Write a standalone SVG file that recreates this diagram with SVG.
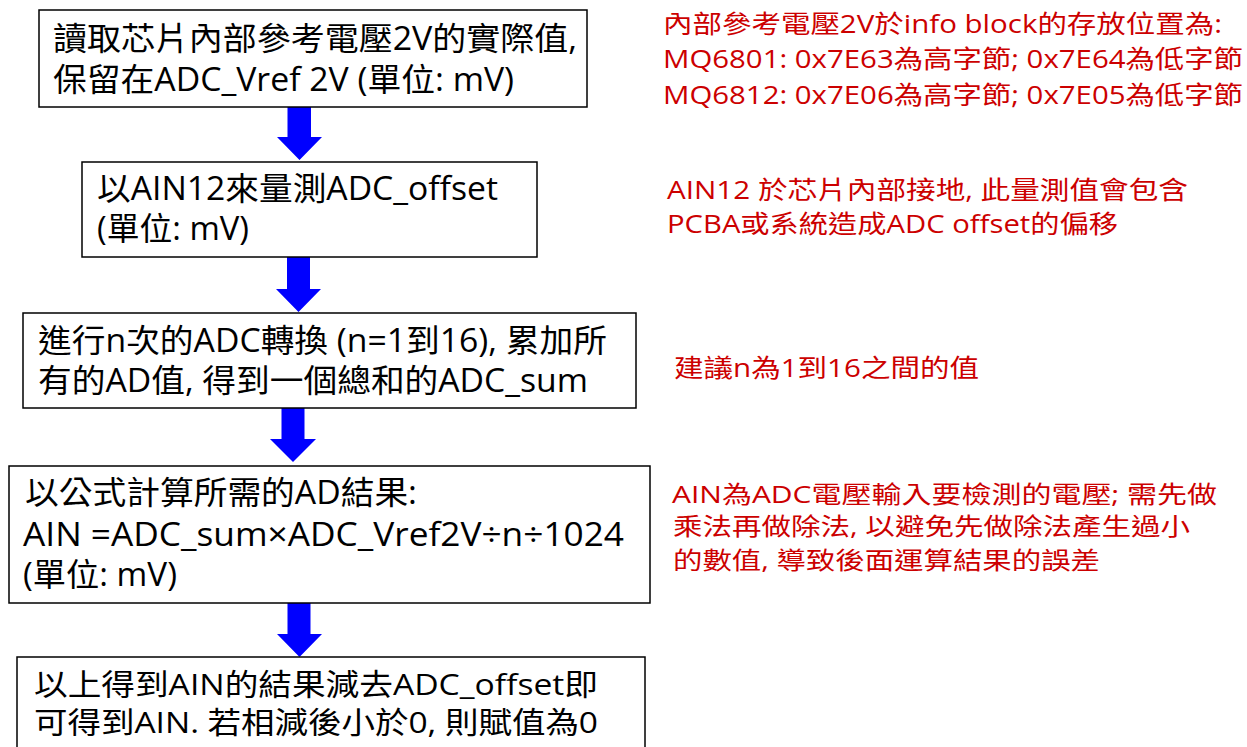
<svg xmlns="http://www.w3.org/2000/svg" width="1247" height="747" viewBox="0 0 1247 747">
<style>
.box{fill:#fff;stroke:#000;stroke-width:1.5}
.t{font-family:"Open Sans","Noto Sans CJK TC",sans-serif;font-size:32px;fill:#000}
.t5{font-family:"Open Sans","Noto Sans CJK TC",sans-serif;font-size:30px;fill:#000}
.r{font-family:"Open Sans","Noto Sans CJK TC",sans-serif;font-size:25px;fill:#cc0000}
.r2{font-family:"Open Sans","Noto Sans CJK TC",sans-serif;font-size:24px;fill:#cc0000}
.arr{fill:#0000ff;stroke:none}
</style>
<rect width="1247" height="747" fill="#fff"/>
<g id="connectors">
<polygon class="arr" points="287.5,107 311,107 311,137 322,137 299.5,160 277,137 287.5,137"/>
<polygon class="arr" points="287,257 310,257 310,289 321,289 298.5,312 276,289 287,289"/>
<polygon class="arr" points="281.5,408 304.5,408 304.5,439 316,439 293,462 270,439 281.5,439"/>
<polygon class="arr" points="287.5,603 310.5,603 310.5,634 322,634 299.5,657 277,634 287.5,634"/>
</g>
<g id="node1">
<rect class="box" x="39" y="10" width="548" height="97"/>
<text class="t" x="53" y="50" textLength="524" lengthAdjust="spacingAndGlyphs">讀取芯片內部參考電壓2V的實際值,</text>
<text class="t" x="53" y="91" textLength="461" lengthAdjust="spacingAndGlyphs">保留在ADC_Vref 2V (單位: mV)</text>
</g>
<g id="node2">
<rect class="box" x="82" y="162" width="455" height="95"/>
<text class="t" x="97" y="200" textLength="401" lengthAdjust="spacingAndGlyphs">以AIN12來量測ADC_offset</text>
<text class="t" x="97" y="240" textLength="152" lengthAdjust="spacingAndGlyphs">(單位: mV)</text>
</g>
<g id="node3">
<rect class="box" x="23" y="313" width="613" height="95"/>
<text class="t" x="38" y="352" textLength="569" lengthAdjust="spacingAndGlyphs">進行n次的ADC轉換 (n=1到16), 累加所</text>
<text class="t" x="38" y="392" textLength="550" lengthAdjust="spacingAndGlyphs">有的AD值, 得到一個總和的ADC_sum</text>
</g>
<g id="node4">
<rect class="box" x="9" y="466" width="641" height="137"/>
<text class="t" x="25" y="504" textLength="392" lengthAdjust="spacingAndGlyphs">以公式計算所需的AD結果:</text>
<text class="t" x="23" y="546" textLength="601" lengthAdjust="spacingAndGlyphs">AIN =ADC_sum×ADC_Vref2V÷n÷1024</text>
<text class="t" x="23" y="586" textLength="154" lengthAdjust="spacingAndGlyphs">(單位: mV)</text>
</g>
<g id="node5">
<rect class="box" x="17" y="657" width="628" height="110"/>
<text class="t5" x="34" y="695" textLength="564" lengthAdjust="spacingAndGlyphs">以上得到AIN的結果減去ADC_offset即</text>
<text class="t5" x="34" y="733" textLength="564" lengthAdjust="spacingAndGlyphs">可得到AIN. 若相減後小於0, 則賦值為0</text>
</g>
<g id="notes">
<text class="r" x="663" y="33" textLength="559" lengthAdjust="spacingAndGlyphs">內部參考電壓2V於info block的存放位置為:</text>
<text class="r" x="663" y="68" textLength="580" lengthAdjust="spacingAndGlyphs">MQ6801: 0x7E63為高字節; 0x7E64為低字節</text>
<text class="r" x="663" y="104" textLength="580" lengthAdjust="spacingAndGlyphs">MQ6812: 0x7E06為高字節; 0x7E05為低字節</text>
<text class="r" x="667" y="199" textLength="521" lengthAdjust="spacingAndGlyphs">AIN12 於芯片內部接地, 此量測值會包含</text>
<text class="r" x="667" y="233" textLength="451" lengthAdjust="spacingAndGlyphs">PCBA或系統造成ADC offset的偏移</text>
<text class="r" x="674" y="377" textLength="305" lengthAdjust="spacingAndGlyphs">建議n為1到16之間的值</text>
<text class="r2" x="672" y="503" textLength="545" lengthAdjust="spacingAndGlyphs">AIN為ADC電壓輸入要檢測的電壓; 需先做</text>
<text class="r2" x="673" y="535" textLength="517" lengthAdjust="spacingAndGlyphs">乘法再做除法, 以避免先做除法產生過小</text>
<text class="r2" x="673" y="569" textLength="427" lengthAdjust="spacingAndGlyphs">的數值, 導致後面運算結果的誤差</text>
</g>
</svg>
